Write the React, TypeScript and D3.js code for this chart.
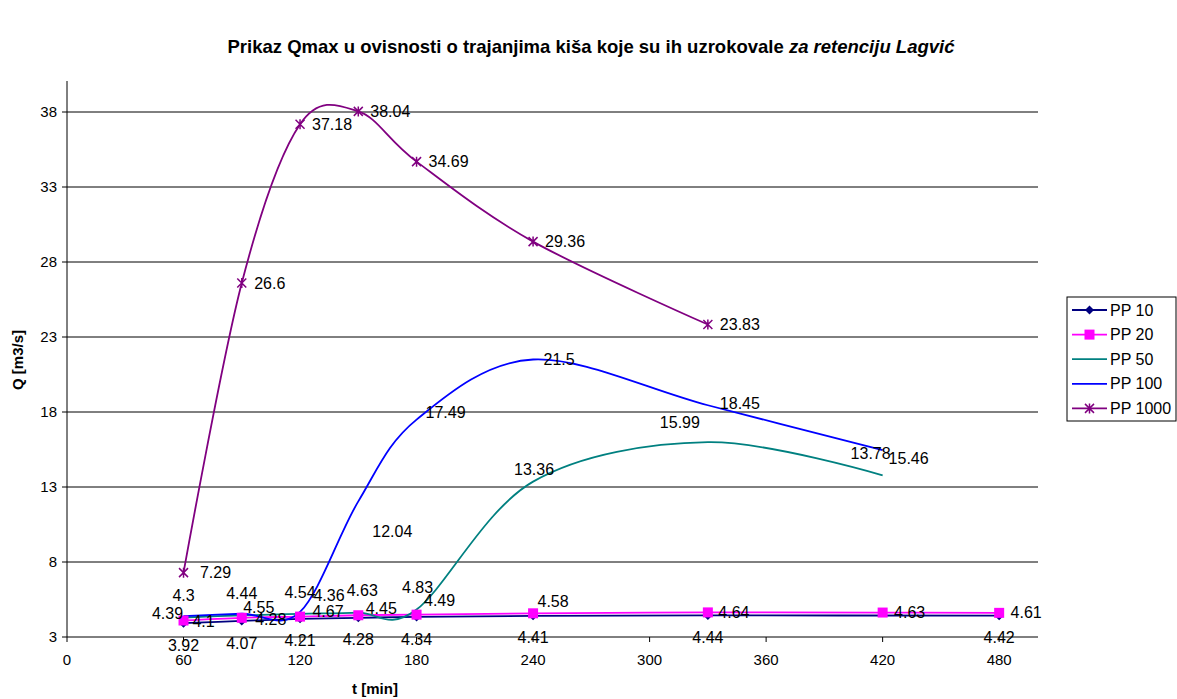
import React from "react";
import * as d3 from "d3";

// ---- data ----
const seriesNames = ["PP 10", "PP 20", "PP 50", "PP 100", "PP 1000"];
const tPP10 = [60, 90, 120, 150, 180, 240, 330, 480];
const qPP10 = [3.92, 4.07, 4.21, 4.28, 4.34, 4.41, 4.44, 4.42];
const tPP20 = [60, 90, 120, 150, 180, 240, 330, 420, 480];
const qPP20 = [4.1, 4.28, 4.36, 4.45, 4.49, 4.58, 4.64, 4.63, 4.61];
const tPP50 = [60, 90, 120, 150, 180, 240, 330, 420];
const qPP50 = [4.3, 4.44, 4.54, 4.63, 4.83, 13.36, 15.99, 13.78];
const tPP100 = [60, 90, 120, 150, 180, 240, 330, 420];
const qPP100 = [4.39, 4.55, 4.67, 12.04, 17.49, 21.5, 18.45, 15.46];
const tPP1000 = [60, 90, 120, 150, 180, 240, 330];
const qPP1000 = [7.29, 26.6, 37.18, 38.04, 34.69, 29.36, 23.83];
const xTicks = [0, 60, 120, 180, 240, 300, 360, 420, 480];
const yTicks = [3, 8, 13, 18, 23, 28, 33, 38];

// ---- layout / style ----
const W = 1177;
const H = 699;
const PL = 67;
const PR = 1038;
const PT = 82;
const PB = 637;
const FONT = "Arial, 'Liberation Sans', sans-serif";

const colors = ["#000080", "#FF00FF", "#008080", "#0000FF", "#800080"];
const markers = ["diamond", "square", "none", "none", "star"];

// label center offsets (dx, dy) relative to the point
const off10 = [[0, 22], [0, 22], [0, 22], [0, 22], [0, 22], [0, 22], [0, 22], [0, 22]];
const off20 = [[20, 1], [29, 2], [29, -21], [23, -7], [23, -14], [20, -12], [26, 0], [27, 0], [27, 0]];
const off50 = [[0, -22], [0, -22], [0, -22], [4, -22], [1, -22], [1, -12], [-28, -20], [-12, -22]];
const off100 = [[-16, -3], [17, -6], [28, -1], [34, 30], [29, -7], [26, 0], [32, -2], [26, 8]];
const off1000 = [[32, 0], [28, 0], [32, 0], [32, 0], [32, 0], [32, 0], [32, 0]];

const xs = [tPP10, tPP20, tPP50, tPP100, tPP1000];
const ys = [qPP10, qPP20, qPP50, qPP100, qPP1000];
const offs = [off10, off20, off50, off100, off1000];

function Marker({ kind, x, y, color }: { kind: string; x: number; y: number; color: string }) {
  if (kind === "diamond") {
    const s = 4.5;
    return <path d={`M${x},${y - s}L${x + s},${y}L${x},${y + s}L${x - s},${y}Z`} fill={color} />;
  }
  if (kind === "square") {
    const s = 5;
    return <rect x={x - s} y={y - s} width={2 * s} height={2 * s} fill={color} />;
  }
  if (kind === "star") {
    const s = 4.5;
    return (
      <path
        d={`M${x - s},${y - s}L${x + s},${y + s}M${x - s},${y + s}L${x + s},${y - s}M${x},${y - s - 0.5}L${x},${y + s + 0.5}`}
        stroke={color}
        strokeWidth={1.5}
        fill="none"
      />
    );
  }
  return null;
}

export default function App() {
  const x = d3.scaleLinear().domain([0, 500]).range([PL, PR]);
  const y = d3.scaleLinear().domain([3, 40]).range([PB, PT]);
  const line = d3
    .line<[number, number]>()
    .x((d) => x(d[0]))
    .y((d) => y(d[1]))
    .curve(d3.curveCatmullRom.alpha(0));

  const legendX = 1067;
  const legendY = 297;

  return (
    <svg
      width={W}
      height={H}
      style={{ position: "absolute", left: 0, top: 0, background: "#fff" }}
      fontFamily={FONT}
    >
      <rect x={0} y={0} width={W} height={H} fill="#fff" />
      {/* title */}
      <text x={591} y={53} textAnchor="middle" fontSize={18.5} fontWeight="bold" fill="#000">
        Prikaz Qmax u ovisnosti o trajanjima kiša koje su ih uzrokovale{" "}
        <tspan fontStyle="italic">za retenciju Lagvić</tspan>
      </text>

      {/* gridlines */}
      {yTicks.map((t) => (
        <g key={"g" + t}>
          {t !== 3 && <line x1={PL} x2={PR} y1={y(t)} y2={y(t)} stroke="#000" strokeWidth={1} />}
          <line x1={PL - 5} x2={PL} y1={y(t)} y2={y(t)} stroke="#000" strokeWidth={1} />
          <text x={PL - 10} y={y(t)} dy="0.35em" textAnchor="end" fontSize={15} fill="#000">
            {t}
          </text>
        </g>
      ))}
      {/* axes */}
      <line x1={PL} x2={PL} y1={PT - 1} y2={PB} stroke="#000" strokeWidth={1} />
      <line x1={PL} x2={PR} y1={PB} y2={PB} stroke="#000" strokeWidth={1} />
      {xTicks.map((t) => (
        <g key={"x" + t}>
          <line x1={x(t)} x2={x(t)} y1={PB} y2={PB + 5} stroke="#000" />
          <text x={x(t)} y={PB + 28} textAnchor="middle" fontSize={15} fill="#000">
            {t}
          </text>
        </g>
      ))}
      <text x={375} y={694} textAnchor="middle" fontSize={15} fontWeight="bold">
        t [min]
      </text>
      <text
        transform={`translate(23,360) rotate(-90)`}
        textAnchor="middle"
        fontSize={15}
        fontWeight="bold"
      >
        Q [m3/s]
      </text>

      {/* series lines */}
      {seriesNames.map((name, i) => {
        const pts = xs[i].map((t, j) => [t, ys[i][j]] as [number, number]);
        return (
          <path key={"l" + name} d={line(pts) || ""} fill="none" stroke={colors[i]} strokeWidth={1.8} />
        );
      })}
      {/* markers */}
      {seriesNames.map((name, i) =>
        xs[i].map((t, j) => (
          <Marker key={name + "m" + j} kind={markers[i]} x={x(t)} y={y(ys[i][j])} color={colors[i]} />
        ))
      )}
      {/* labels */}
      {seriesNames.map((name, i) =>
        xs[i].map((t, j) => (
          <text
            key={name + "t" + j}
            x={x(t) + offs[i][j][0]}
            y={y(ys[i][j]) + offs[i][j][1]}
            dy="0.35em"
            textAnchor="middle"
            fontSize={16}
            fill="#000"
          >
            {String(ys[i][j])}
          </text>
        ))
      )}

      {/* legend */}
      <rect x={legendX} y={legendY} width={109} height={124} fill="#fff" stroke="#000" strokeWidth={1} />
      {seriesNames.map((name, i) => {
        const ly = legendY + 13 + i * 24.6;
        return (
          <g key={"leg" + name}>
            <line x1={1072} x2={1107} y1={ly} y2={ly} stroke={colors[i]} strokeWidth={1.8} />
            <Marker kind={markers[i]} x={1089.5} y={ly} color={colors[i]} />
            <text x={1110} y={ly} dy="0.35em" fontSize={16} fill="#000">
              {name}
            </text>
          </g>
        );
      })}
    </svg>
  );
}
